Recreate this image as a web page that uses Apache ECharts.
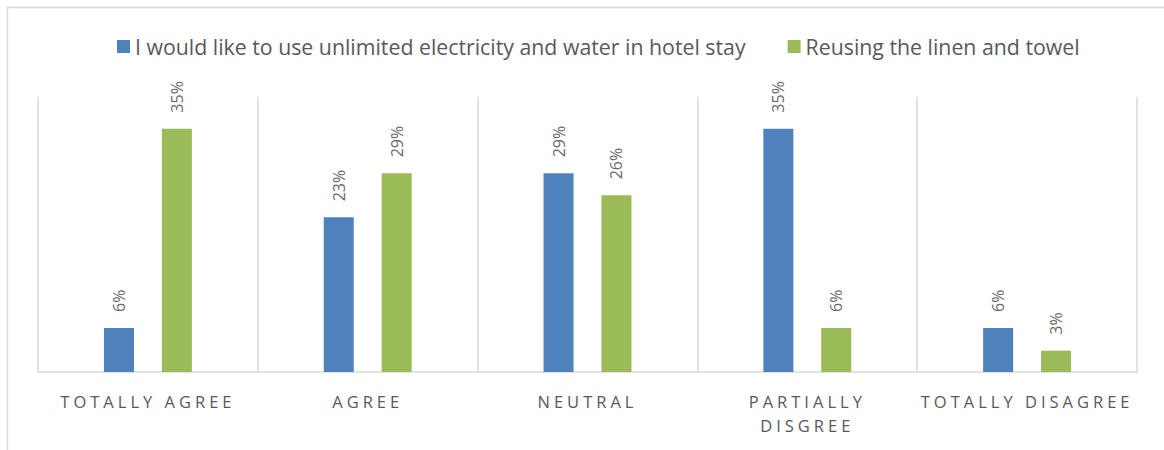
<!DOCTYPE html>
<html>
<head>
<meta charset="utf-8">
<script src="https://cdn.jsdelivr.net/npm/echarts@6/dist/echarts.min.js"></script>
<style>
html,body{margin:0;padding:0;background:#fff;}
#chart{width:1164px;height:450px;}
</style>
</head>
<body>
<div id="chart"></div>
<script>
var categories = ['TOTALLY AGREE', 'AGREE', 'NEUTRAL', 'PARTIALLY DISGREE', 'TOTALLY DISAGREE'];
var seriesNames = ['I would like to use unlimited electricity and water in hotel stay', 'Reusing the linen and towel'];
var electricityWater = [6.4, 22.5, 28.9, 35.4, 6.4];
var linenTowel = [35.4, 28.9, 25.7, 6.4, 3.1];

var chart = echarts.init(document.getElementById('chart'), null, {renderer: 'svg'});
var labelCfg = {
  show: true,
  position: 'top',
  rotate: 90,
  align: 'left',
  verticalAlign: 'middle',
  distance: 16,
  formatter: function (p) { return Math.round(p.value) + '%'; },
  color: '#6b6b6b',
  fontFamily: 'Open Sans',
  fontSize: 16
};
chart.setOption({
  animation: false,
  backgroundColor: '#fff',
  graphic: [{
    type: 'rect', silent: true,
    shape: {x: 7.5, y: 7.5, width: 1200, height: 500},
    style: {fill: 'none', stroke: '#D9D9D9', lineWidth: 1.5}
  }],
  legend: {
    top: 31,
    left: 112,
    itemWidth: 13,
    itemHeight: 13,
    itemGap: 42,
    icon: 'rect',
    textStyle: {color: '#595959', fontFamily: 'Open Sans', fontSize: 21.3}
  },
  grid: {left: 38, right: 27, top: 97, bottom: 78, containLabel: false},
  xAxis: {
    type: 'category',
    data: categories,
    axisLine: {lineStyle: {color: '#D9D9D9', width: 1.5}},
    axisTick: {show: false},
    splitLine: {show: true, lineStyle: {color: '#D9D9D9', width: 1.5}},
    axisLabel: {
      color: '#595959', fontFamily: 'Open Sans', fontSize: 16.5, margin: 17, lineHeight: 24,
      interval: 0,
      formatter: function (v) { return v === 'PARTIALLY DISGREE' ? 'PARTIALLY\nDISGREE' : v; }
    }
  },
  yAxis: {
    type: 'value', min: 0, max: 40, show: false, splitLine: {show: false}
  },
  series: [{
    name: seriesNames[0], type: 'bar', data: electricityWater,
    barWidth: 30, barGap: '93%',
    itemStyle: {color: '#4F81BD'}, label: labelCfg
  }, {
    name: seriesNames[1], type: 'bar', data: linenTowel,
    barWidth: 30, barGap: '93%',
    itemStyle: {color: '#9BBB59'}, label: labelCfg
  }]
});
// letter-spaced category labels
var words = {};
categories.forEach(function (c) { words[c] = 1; });
words['PARTIALLY'] = 1; words['DISGREE'] = 1;
document.querySelectorAll('#chart text').forEach(function (t) {
  if (words[t.textContent.trim()]) t.setAttribute('letter-spacing', '4px');
});
</script>
</body>
</html>
